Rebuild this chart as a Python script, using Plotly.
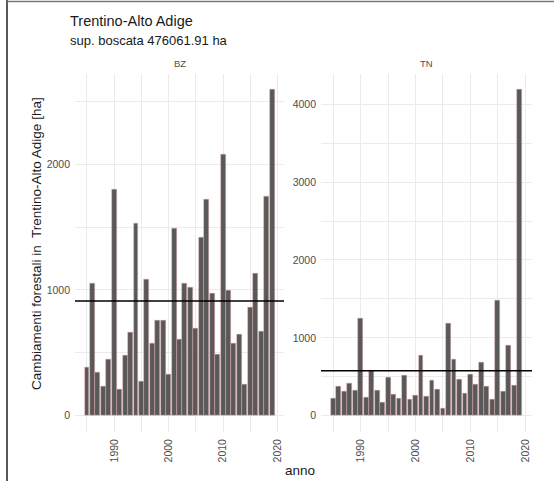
import plotly.graph_objects as go
import numpy as np

years = list(range(1985, 2020))
bz_values = [385, 1053, 345, 231, 443, 1795, 212, 480, 660, 1531,
             270, 1082, 578, 756, 756, 329, 1491, 607, 1053, 1021,
             695, 1419, 1716, 968, 488, 2074, 997, 575, 642, 247,
             862, 1127, 666, 1742, 2591]
tn_values = [219, 373, 313, 416, 330, 1251, 231, 587, 326, 176,
             497, 266, 223, 518, 206, 257, 767, 253, 450, 343,
             94, 1187, 720, 463, 287, 527, 407, 681, 381, 206,
             1474, 313, 896, 386, 4186]
panels = ["BZ", "TN"]
x_ticks = [1990, 2000, 2010, 2020]
bz_ticks = [0, 1000, 2000]
tn_ticks = [0, 1000, 2000, 3000, 4000]

title = "Trentino-Alto Adige"
subtitle = "sup. boscata 476061.91 ha"
y_title = "Cambiamenti forestali in  Trentino-Alto Adige [ha]"
x_title = "anno"

W, H = 554, 481
FONT = "Liberation Sans, Arial, sans-serif"
GRID = "#ebebeb"
TXT = "#4d4d4d"

def fx(px):
    return px / W

def fy(py):
    return 1 - py / H

panel_top, panel_bot = 73.5, 432
dom_bz = [fx(75), fx(284)]
dom_tn = [fx(321), fx(532)]
ydom = [fy(panel_bot), fy(panel_top)]

fig = go.Figure()
bar_style = dict(marker=dict(color="#595959", line=dict(color="rgba(235,170,170,0.7)", width=0.6)),
                 width=0.9, showlegend=False, hoverinfo="x+y")
fig.add_trace(go.Bar(x=years, y=bz_values, xaxis="x", yaxis="y", **bar_style))
fig.add_trace(go.Bar(x=years, y=tn_values, xaxis="x2", yaxis="y2", **bar_style))

xr = [min(years) - 0.45 - 0.05 * (max(years) - min(years) + 0.9),
      max(years) + 0.45 + 0.05 * (max(years) - min(years) + 0.9)]

def yr(vals):
    m = max(vals)
    return [-0.05 * m, 1.05 * m]

xcommon = dict(range=xr, tickvals=x_ticks, tickangle=-90, showgrid=True, gridcolor=GRID,
               gridwidth=1, zeroline=False, showline=False, ticks="", ticklabelstandoff=4,
               tickfont=dict(family=FONT, size=10.5, color=TXT),
               minor=dict(dtick=5, tick0=1985, showgrid=True, gridcolor=GRID, gridwidth=0.6))
ycommon = dict(showgrid=True, gridcolor=GRID, gridwidth=1, zeroline=False, showline=False,
               ticks="", ticklabelstandoff=4,
               tickfont=dict(family=FONT, size=10.5, color=TXT),
               minor=dict(dtick=500, tick0=0, showgrid=True, gridcolor=GRID, gridwidth=0.6))

fig.update_layout(
    width=W, height=H,
    margin=dict(l=0, r=0, t=0, b=0),
    paper_bgcolor="white", plot_bgcolor="white",
    bargap=0,
    xaxis=dict(domain=dom_bz, anchor="y", **xcommon),
    xaxis2=dict(domain=dom_tn, anchor="y2", **xcommon),
    yaxis=dict(domain=ydom, anchor="x", range=yr(bz_values), tickvals=bz_ticks, **ycommon),
    yaxis2=dict(domain=ydom, anchor="x2", range=yr(tn_values), tickvals=tn_ticks, **ycommon),
    font=dict(family=FONT),
)

# mean lines
for vals, xa, ya in [(bz_values, "x", "y"), (tn_values, "x2", "y2")]:
    m = float(np.mean(vals))
    fig.add_shape(type="line", xref=f"{xa} domain", yref=ya, x0=0, x1=1, y0=m, y1=m,
                  line=dict(color="black", width=1.5))

ann = []
ann.append(dict(text=title, x=fx(68), y=fy(21), xref="paper", yref="paper", xanchor="left",
                yanchor="middle", showarrow=False, font=dict(family=FONT, size=14.5, color="#1a1a1a")))
ann.append(dict(text=subtitle, x=fx(68), y=fy(40), xref="paper", yref="paper", xanchor="left",
                yanchor="middle", showarrow=False, font=dict(family=FONT, size=13, color="#1a1a1a")))
for name, dom in zip(panels, [dom_bz, dom_tn]):
    ann.append(dict(text=name, x=(dom[0] + dom[1]) / 2, y=fy(63), xref="paper", yref="paper",
                    xanchor="center", yanchor="middle", showarrow=False,
                    font=dict(family=FONT, size=9.5, color=TXT)))
ann.append(dict(text=y_title, x=fx(36), y=fy(244), xref="paper", yref="paper", textangle=-90,
                xanchor="center", yanchor="middle", showarrow=False,
                font=dict(family=FONT, size=13.5, color="#1a1a1a")))
ann.append(dict(text=x_title, x=fx(300), y=fy(470), xref="paper", yref="paper",
                xanchor="center", yanchor="middle", showarrow=False,
                font=dict(family=FONT, size=13.5, color="#1a1a1a")))
fig.update_layout(annotations=ann)

# frame lines around the image
fig.add_shape(type="line", xref="paper", yref="paper", x0=fx(7), x1=fx(7), y0=0, y1=1,
              line=dict(color="#222222", width=1.5))
fig.add_shape(type="line", xref="paper", yref="paper", x0=fx(7), x1=1, y0=fy(1.5), y1=fy(1.5),
              line=dict(color="#777777", width=1.5))

fig.write_html("out.html")
